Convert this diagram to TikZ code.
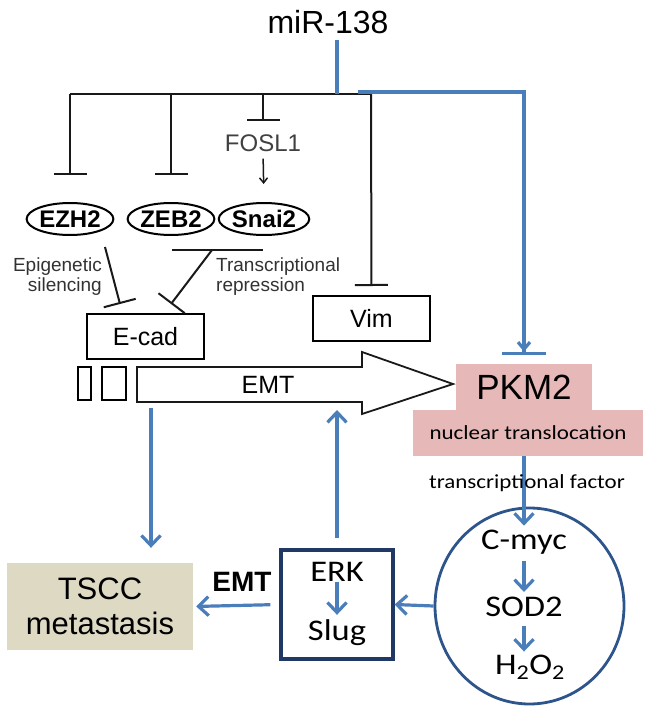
\documentclass[tikz,border=0pt]{standalone}
\usepackage{fontspec}
\setmainfont{Liberation Sans}
\newfontfamily\calib[FakeStretch=1.15]{Carlito}
\usetikzlibrary{arrows.meta,shapes.geometric,calc}
\definecolor{bl}{RGB}{74,126,187}
\definecolor{navy}{RGB}{31,56,100}
\definecolor{circ}{RGB}{46,84,140}
\definecolor{pinkf}{RGB}{230,184,183}
\definecolor{tanf}{RGB}{221,217,195}
\definecolor{dgray}{RGB}{50,50,50}
\newcommand{\fsz}[1]{\fontsize{#1}{#1}\selectfont}
\begin{document}
\begin{tikzpicture}[x=1pt,y=-1pt]
\tikzset{
  blk/.style={line width=2pt,draw=black!90},
  blu/.style={line width=3.2pt,draw=bl},
  tbar/.style={-{Bar[width=33pt]}},
  barr/.style={-{Straight Barb[length=10pt,width=19pt]}},
  sbarr/.style={-{Straight Barb[length=5pt,width=8pt]}},
  ell/.style={ellipse,draw,line width=2pt,minimum width=84pt,minimum height=32pt,inner sep=0pt,font=\bfseries\fsz{24}},
  box/.style={rectangle,draw,line width=2pt,inner sep=0pt,font=\fsz{25}},
  cal/.style={font=\calib\fsz{30},inner sep=0pt},
}
\useasboundingbox (0,0) rectangle (648,712);

% ---- nodes ----
\node[font=\fsz{32},inner sep=0pt] (mir) at (328,22) {miR-138};
\node[font=\fsz{24},text=black!75,inner sep=0pt] (fosl1) at (263,143) {FOSL1};
\node[ell] (ezh2) at (70,219) {EZH2};
\node[ell] (zeb2) at (171,219) {ZEB2};
\node[ell] (snai2) at (264,219) {Snai2};
\node[font=\fontsize{19}{20}\selectfont,text=dgray,align=right,anchor=east,inner sep=0pt] (epi) at (102,277) {Epigenetic\\silencing};
\node[font=\fontsize{19}{20}\selectfont,text=dgray,align=left,anchor=west,inner sep=0pt] (trans) at (216,277) {Transcriptional\\repression};
\node[box,minimum width=117pt,minimum height=45pt] (ecad) at (145.5,336.5) {E-cad};
\node[box,minimum width=117pt,minimum height=45pt] (vim) at (371.5,318.5) {Vim};
\node[draw,line width=1.6pt,minimum width=13pt,minimum height=33pt,inner sep=0pt] (r1) at (84.5,383.5) {};
\node[draw,line width=1.6pt,minimum width=24pt,minimum height=33pt,inner sep=0pt] (r2) at (114,383.5) {};
% EMT big arrow
\draw[line width=1.8pt,draw=black!90] (137,367) -- (362,367) -- (362,352) -- (453,384) -- (362,414) -- (362,402) -- (137,402) -- cycle;
\node[font=\fsz{25},inner sep=0pt] (emt) at (268,385) {EMT};
% PKM2
\node[fill=pinkf,minimum width=136pt,minimum height=46pt,inner sep=0pt,font=\fsz{35}] (pkm2) at (524,387) {PKM2};
\node[fill=pinkf,minimum width=230pt,minimum height=46pt,inner sep=0pt,font=\calib\fsz{20}] (nuc) at (528,433) {nuclear translocation};
% circle
\node[ellipse,draw=circ,line width=2.8pt,minimum width=189pt,minimum height=196pt,inner sep=0pt] (circle) at (529.5,606) {};
\node[cal] (cmyc) at (524,542) {C-myc};
\node[cal] (sod2) at (524,607) {SOD2};
\node[cal] (h2o2) at (530,667) {H\textsubscript{2}O\textsubscript{2}};
% ERK box
\node[draw=navy,line width=3.2pt,minimum width=112pt,minimum height=109pt,inner sep=0pt] (erkbox) at (337,604.5) {};
\node[cal] (erk) at (337,572) {ERK};
\node[cal] (slug) at (337,633) {Slug};
% TSCC
\node[fill=tanf,minimum width=186pt,minimum height=87pt,inner sep=0pt,align=center,font=\fontsize{31}{35}\selectfont] (tscc) at (100,606.5) {TSCC\\metastasis};
\node[font=\bfseries\fsz{28},inner sep=0pt] (emtl) at (242,582) {EMT};

% ---- black inhibition tree ----
\coordinate (b1) at (70,94);
\coordinate (b2) at (171,94);
\coordinate (b3) at (263,94);
\coordinate (b4) at (371,94);
\coordinate (mj) at (337,94);
\draw[blk] (b1) -- (b4);
\draw[blk,tbar,shorten >=27pt] (b1) -- (ezh2.north);
\draw[blk,tbar,shorten >=27pt] (b2) -- (zeb2.north);
\draw[blk,tbar,shorten >=13pt] (b3) -- (fosl1.north);
\draw[blk,line width=1.5pt,sbarr,shorten <=7pt,shorten >=18pt] (fosl1.south) -- (snai2.north);
\draw[blk,tbar,shorten >=9pt] (b4) -- (vim.north);

% ZEB2 / Snai2 junction and E-cad repression
\coordinate (jL) at (172,250);
\coordinate (jR) at (263,250);
\coordinate (jM) at (212,250);
\coordinate (ez1) at (105,247);
\coordinate (eT1) at (120,304);
\coordinate (eT2) at (171,304);
\draw[blk] (jL) -- (jR);
\draw[blk,tbar] (jM) -- (eT2);
\draw[blk,tbar] (ez1) -- (eT1);

% ---- blue connectors ----
\draw[blu,shorten <=6pt] (mir.south -| mj) -- (mj);
\coordinate (bstart) at (358,92);
\draw[blu,-{Straight Barb[length=7pt,width=12pt] Bar[width=44pt]},shorten >=9pt] (bstart) -| (pkm2.north);
\coordinate (edown) at (151,408);
\draw[blu,barr,shorten >=15pt] (edown) -- (edown |- tscc.north);
\coordinate (emtin) at (337,410);
\draw[blu,barr,shorten <=10pt] (erkbox.north) -- (emtin);
\draw[blu,barr,shorten >=4pt] (nuc.south -| cmyc) -- (cmyc.north);
\draw[blu,barr,shorten <=7pt,shorten >=5pt] (cmyc.south) -- (sod2.north);
\draw[blu,barr,shorten <=9pt,shorten >=3pt] (sod2.south) -- (h2o2.north -| sod2);
\draw[blu,barr,shorten >=5pt] (erk.south) -- (slug.north);
\draw[blu,barr] (circle.west) -- (erkbox.east);
\draw[blu,barr,shorten <=9pt,shorten >=3pt] (erkbox.west) -- (tscc.east);
\node[font=\calib\fsz{20},inner sep=0pt] (tf) at (527,483) {transcriptional factor};
\end{tikzpicture}
\end{document}
